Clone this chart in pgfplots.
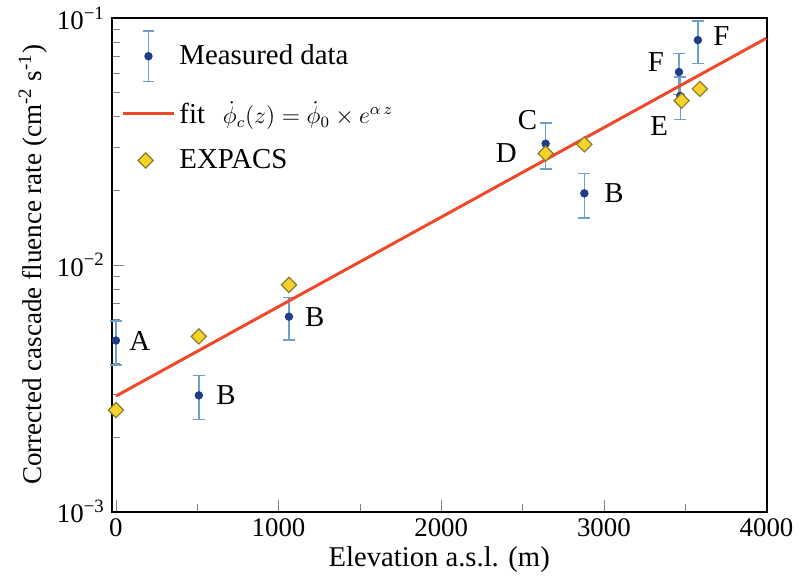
\documentclass[border=0pt]{standalone}
\usepackage{pgfplots}
\pgfplotsset{compat=1.18}
\usepackage{fontspec}
\setmainfont{Liberation Serif}
\definecolor{navy}{HTML}{1F3C88}
\definecolor{errblue}{HTML}{6F9FCB}
\definecolor{fitred}{HTML}{F0492A}
\definecolor{expfill}{HTML}{F5D328}
\definecolor{expedge}{HTML}{8C7B2E}
\begin{document}
\begin{tikzpicture}
\begin{axis}[
  scale only axis,
  width=329pt, height=248pt,
  xmin=-25, xmax=4000,
  ymode=log, ymin=0.001, ymax=0.1,
  xtick={0,1000,2000,3000,4000},
  minor xtick={500,1500,2500,3500},
  ytick={0.001,0.01,0.1},
  yticklabels={10\textsuperscript{−3},10\textsuperscript{−2},10\textsuperscript{−1}},
  xtick pos=left, ytick pos=left,
  tick align=inside,
  major tick length=6pt, minor tick length=4pt,
  /pgf/number format/1000 sep={},
  /pgf/number format/assume math mode=true,
  tick label style={font=\fontsize{13.5}{15}\selectfont},
  xlabel style={font=\fontsize{14.4}{16}\selectfont, yshift=2pt},
  ylabel style={font=\fontsize{13.6}{15}\selectfont, yshift=-2pt},
  xlabel={Elevation a.s.l. (m)},
  ylabel={Corrected cascade fluence rate (cm\textsuperscript{-2} s\textsuperscript{-1})},
  axis line style={line width=1pt},
  legend style={at={(0.005,0.985)}, anchor=north west, draw=none, fill=none,
    font=\fontsize{14.5}{16}\selectfont, row sep=7.5pt, legend cell align=left},
  clip=false,
]
\addplot[only marks, mark=*, mark size=1.9pt, color=navy,
  legend image code/.code={
  \draw[errblue, line width=0.8pt] (0.35cm,-0.45cm)--(0.35cm,0.45cm)
     (0.25cm,-0.45cm)--(0.45cm,-0.45cm) (0.25cm,0.45cm)--(0.45cm,0.45cm);
  \fill[navy] (0.35cm,0cm) circle (1.9pt);},
  error bars/.cd, y dir=both, y explicit,
  error bar style={color=errblue, line width=0.8pt},
  error mark options={color=errblue, mark size=3pt, line width=0.8pt, rotate=90}]
  coordinates {
  (0,0.00494) +- (0,0.0010)
  (510,0.00296) +- (0,0.0006)
  (1064,0.00617) +- (0,0.0012)
  (2642,0.0310) +- (0,0.0065)
  (2880,0.0195) +- (0,0.0040)
  (3462,0.0605) +- (0,0.0115)
  (3470,0.0484) +- (0,0.0095)
  (3578,0.0815) +- (0,0.0160)
  };
\addlegendentry{Measured data}
\addplot[fitred, line width=1.5pt,
  legend image code/.code={\draw[fitred, line width=1.5pt] (-0.1cm,0cm)--(0.8cm,0cm);}]
  coordinates {(0,0.00294) (4000,0.083)};
\addlegendentry{fit\hspace{9pt}{\fontsize{11.5}{13}\selectfont$\dot{\phi}_c(z)=\dot{\phi}_0\times e^{\alpha\, z}$}}
\addplot[only marks, mark=square*, mark size=2.7pt, mark options={rotate=45, fill=expfill, draw=expedge, line width=0.6pt}]
  coordinates {
  (0,0.00258)
  (510,0.00513)
  (1064,0.0083)
  (2642,0.0283)
  (2880,0.0308)
  (3478,0.0463)
  (3590,0.0517)
  };
\addlegendentry{EXPACS}
\node[anchor=west, font=\fontsize{14.5}{16}\selectfont] at (axis cs:40,0.00494) {A};
\node[anchor=west, font=\fontsize{14.5}{16}\selectfont] at (axis cs:575,0.00296) {B};
\node[anchor=west, font=\fontsize{14.5}{16}\selectfont] at (axis cs:1120,0.00617) {B};
\node[anchor=west, font=\fontsize{14.5}{16}\selectfont] at (axis cs:2960,0.0195) {B};
\node[font=\fontsize{14.5}{16}\selectfont] at (axis cs:2530,0.0385) {C};
\node[font=\fontsize{14.5}{16}\selectfont] at (axis cs:2400,0.0283) {D};
\node[font=\fontsize{14.5}{16}\selectfont] at (axis cs:3320,0.0665) {F};
\node[font=\fontsize{14.5}{16}\selectfont] at (axis cs:3340,0.0365) {E};
\node[anchor=west, font=\fontsize{14.5}{16}\selectfont] at (axis cs:3630,0.0845) {F};
\end{axis}
\path (current bounding box.south west) ++(-6pt,0);
\end{tikzpicture}
\end{document}
